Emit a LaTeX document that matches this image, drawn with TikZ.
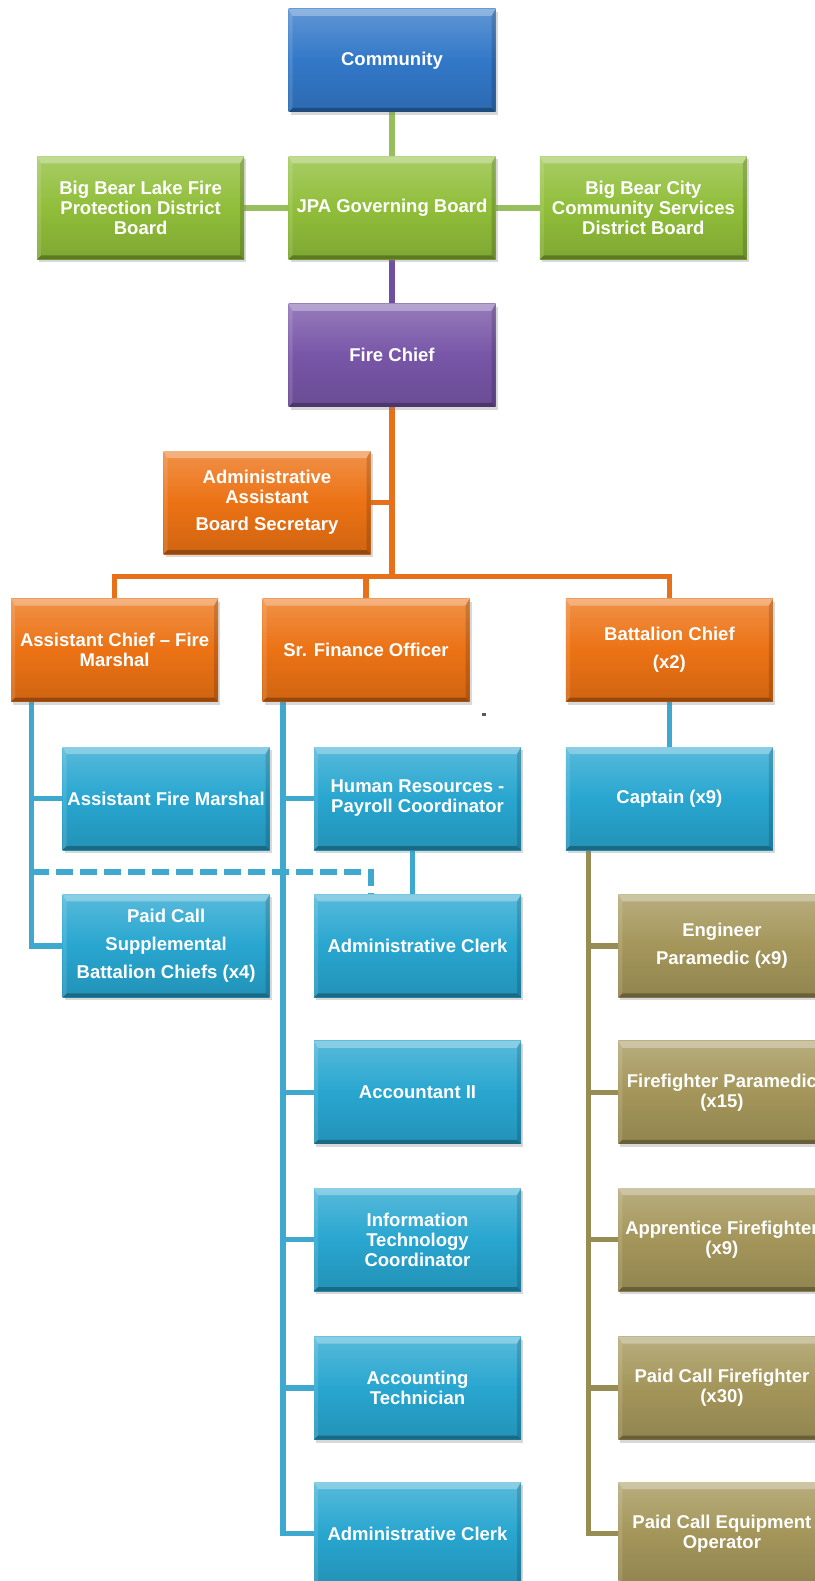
\documentclass[tikz,border=0pt]{standalone}
\usepackage{fontspec}
\setmainfont{Liberation Sans}
\usetikzlibrary{positioning, shadows, backgrounds, calc}
\definecolor{communityblue}{RGB}{50, 120, 200}
\definecolor{boardgreen}{RGB}{144, 190, 58}
\definecolor{chiefpurple}{RGB}{120, 86, 168}
\definecolor{staforange}{RGB}{236, 114, 20}
\definecolor{unitcyan}{RGB}{40, 166, 208}
\definecolor{crewolive}{RGB}{164, 150, 90}
\definecolor{greenwire}{RGB}{150, 190, 92}
\definecolor{purplewire}{RGB}{112, 78, 160}
\definecolor{orangewire}{RGB}{232, 112, 26}
\definecolor{bluewire}{RGB}{62, 168, 206}
\definecolor{olivewire}{RGB}{150, 140, 84}

\newcommand{\boxbevel}{%
  \fill[white, opacity=0.3] (path picture bounding box.north west) -- (path picture bounding box.north east)
    -- ([shift={(-4pt,-7pt)}]path picture bounding box.north east) -- ([shift={(4pt,-7pt)}]path picture bounding box.north west) -- cycle;
  \fill[white, opacity=0.12] (path picture bounding box.north west) -- (path picture bounding box.south west)
    -- ([shift={(4pt,4pt)}]path picture bounding box.south west) -- ([shift={(4pt,-7pt)}]path picture bounding box.north west) -- cycle;
  \fill[black, opacity=0.15] (path picture bounding box.north east) -- (path picture bounding box.south east)
    -- ([shift={(-4pt,4pt)}]path picture bounding box.south east) -- ([shift={(-4pt,-7pt)}]path picture bounding box.north east) -- cycle;
  \fill[black, opacity=0.28] (path picture bounding box.south west) -- (path picture bounding box.south east)
    -- ([shift={(-4pt,4pt)}]path picture bounding box.south east) -- ([shift={(4pt,4pt)}]path picture bounding box.south west) -- cycle;
}

\begin{document}
\begin{tikzpicture}[
    x=1pt, y=-1pt,
    node distance=44pt,
    orgbox/.style={rectangle, minimum width=207pt, minimum height=103pt, inner sep=3pt, align=center,
      text=white, font=\fontsize{18.5}{20}\selectfont\bfseries,
      top color=#1!78!white, bottom color=#1!88!black, middle color=#1,
      drop shadow={opacity=0.3, shadow xshift=2pt, shadow yshift=-3pt},
      path picture={\boxbevel}},
    wire/.style={line width=5.5pt, draw=#1},
    dashwire/.style={line width=6pt, draw=#1, dash pattern=on 17pt off 7pt}
]

% Board level
\node[orgbox=communityblue] (community) at (392, 60.5) {Community};
\node[orgbox=boardgreen, below=of community] (jpa) {JPA Governing Board};
\node[orgbox=boardgreen, left=of jpa] (lakeboard) {Big Bear Lake Fire\\Protection District\\Board};
\node[orgbox=boardgreen, right=of jpa] (cityboard) {Big Bear City\\Community Services\\District Board};
\node[orgbox=chiefpurple, below=of jpa] (chief) {Fire Chief};

% Chief staff
\node[orgbox=staforange, below=of chief, xshift=-125pt] (adminasst) {Administrative\\Assistant\\[7pt]Board Secretary};
\node[orgbox=staforange, below=of adminasst, xshift=99pt] (finance) {Sr. Finance Officer};
\node[orgbox=staforange, left=of finance] (acfm) {Assistant Chief -- Fire\\Marshal};
\node[orgbox=staforange, right=96pt of finance] (battalion) {Battalion Chief\\[8pt](x2)};

% Prevention and finance
\node[orgbox=unitcyan, below=45pt of finance, xshift=51.5pt] (hrpay) {Human Resources -\\Payroll Coordinator};
\node[orgbox=unitcyan, left=of hrpay] (afm) {Assistant Fire Marshal};
\node[orgbox=unitcyan, below=of afm] (paidbc) {Paid Call\\[8pt]Supplemental\\[8pt]Battalion Chiefs (x4)};
\node[orgbox=unitcyan, below=of hrpay] (clerka) {Administrative Clerk};
\node[orgbox=unitcyan, below=43pt of clerka] (accountant) {Accountant II};
\node[orgbox=unitcyan, below=of accountant] (itcoord) {Information\\Technology\\Coordinator};
\node[orgbox=unitcyan, below=45pt of itcoord] (acctech) {Accounting\\Technician};
\node[orgbox=unitcyan, below=42pt of acctech] (clerkb) {Administrative Clerk};

% Suppression
\node[orgbox=unitcyan, below=45pt of battalion] (captain) {Captain (x9)};
\node[orgbox=crewolive, below=of captain, xshift=52.5pt] (engineer) {Engineer\\[8pt]Paramedic (x9)};
\node[orgbox=crewolive, below=43pt of engineer] (ffmedic) {Firefighter Paramedic\\(x15)};
\node[orgbox=crewolive, below=of ffmedic] (apprentice) {Apprentice Firefighter\\(x9)};
\node[orgbox=crewolive, below=45pt of apprentice] (pcff) {Paid Call Firefighter\\(x30)};
\node[orgbox=crewolive, below=42pt of pcff] (pceo) {Paid Call Equipment\\Operator};

\fill[black!65] (482, 713) rectangle (486, 716);

\begin{scope}[on background layer]
\fill[white] (0, 0) rectangle (814, 1581);

% Board links
\draw[wire=greenwire] (community) -- (jpa);
\draw[wire=greenwire] (lakeboard) -- (jpa);
\draw[wire=greenwire] (jpa) -- (cityboard);
\draw[wire=purplewire] (jpa) -- (chief);

% Chief to staff
\coordinate (bus) at ([yshift=22pt]finance.north);
\draw[wire=orangewire] (chief) -- (chief.south |- bus);
\draw[wire=orangewire] (adminasst.east) -- (adminasst.east -| chief.south);
\draw[wire=orangewire] (acfm.north) -- (acfm.north |- bus) -- (battalion.north |- bus) -- (battalion.north);
\draw[wire=orangewire] (finance) -- (finance.north |- bus);

% Prevention
\coordinate (actrunk) at ([xshift=-83pt]acfm.south);
\draw[wire=bluewire] (actrunk) |- (paidbc.west);
\draw[wire=bluewire] (afm.west) -- (afm.west -| actrunk);
\coordinate (dashknee) at ([xshift=-47pt, yshift=22pt]clerka.north);
\draw[dashwire=bluewire] (actrunk |- dashknee) -- (dashknee) -- ([xshift=-47pt]clerka.north);

% Finance
\coordinate (sftrunk) at ([xshift=-83pt]finance.south);
\draw[wire=bluewire] (sftrunk) |- (clerkb.west);
\foreach \n in {hrpay, accountant, itcoord, acctech}
  \draw[wire=bluewire] (\n.west) -- (\n.west -| sftrunk);
\draw[wire=bluewire] ([xshift=-5pt]hrpay.south) -- ([xshift=-5pt]clerka.north);

% Suppression
\draw[wire=bluewire] (battalion) -- (captain);
\coordinate (cptrunk) at ([xshift=-81pt]captain.south);
\draw[wire=olivewire] (cptrunk) |- (pceo.west);
\foreach \n in {engineer, ffmedic, apprentice, pcff}
  \draw[wire=olivewire] (\n.west) -- (\n.west -| cptrunk);
\end{scope}

\pgfresetboundingbox
\useasboundingbox (0, 0) rectangle (814, 1581);
\end{tikzpicture}
\end{document}
